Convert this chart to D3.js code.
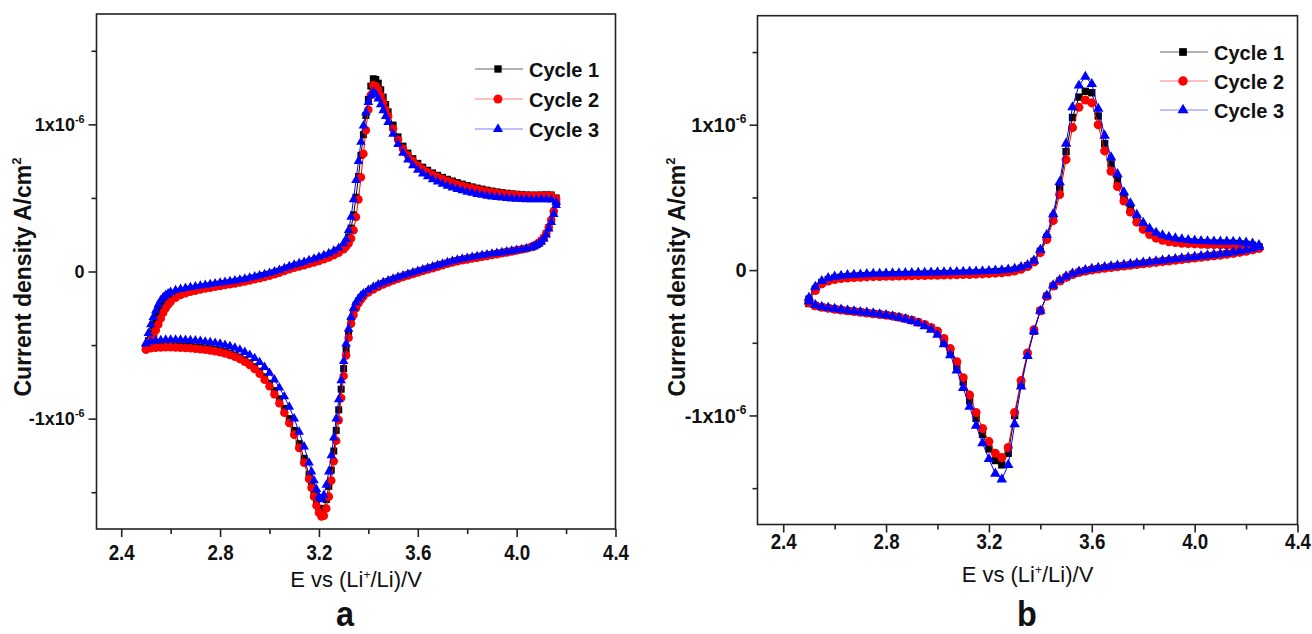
<!DOCTYPE html>
<meta charset="utf-8">
<style>
body { margin: 0; background: #fff; }
svg text { font-family: "Liberation Sans", Arial, sans-serif; fill: #111; }
.axis path { display: none; }
.axis line { stroke: #222; stroke-width: 1.6px; }
.frame { fill: none; stroke: #222; stroke-width: 1.6px; }
</style>
<svg width="1312" height="634"></svg>
<script src="https://d3js.org/d3.v7.min.js"></script>
<script>

// ---- panel a : potentials (V) and current density (x1e-6 A/cm2) ----
var potA_fwd = [2.50,2.51,2.52,2.53,2.54,2.55,2.56,2.57,2.58,2.59,2.60,
  2.62,2.64,2.66,2.68,2.70,2.72,2.74,2.76,2.78,2.80,
  2.82,2.84,2.86,2.88,2.90,2.92,2.94,2.96,2.98,3.00,
  3.02,3.04,3.06,3.08,3.10,3.12,3.14,3.16,3.18,3.20,
  3.22,3.24,3.26,3.28,3.30,
  3.31,3.32,3.33,3.34,3.35,3.36,3.37,3.38,3.39,3.40,
  3.41,3.42,3.43,3.44,3.45,3.46,3.47,3.48,
  3.50,3.52,3.54,3.56,3.58,3.60,3.62,3.64,3.66,3.68,
  3.70,3.72,3.74,3.76,3.78,3.80,3.82,3.84,3.86,3.88,
  3.90,3.92,3.94,3.96,3.98,4.00,4.02,4.04,4.06,4.08,
  4.10,4.12,4.14,4.16];

var a1_fwd = [-0.52,-0.47,-0.42,-0.37,-0.33,-0.29,-0.255,-0.225,-0.20,-0.185,-0.17,
  -0.152,-0.14,-0.13,-0.122,-0.116,-0.11,-0.104,-0.098,-0.093,-0.087,
  -0.082,-0.077,-0.071,-0.065,-0.059,-0.052,-0.044,-0.036,-0.028,-0.019,
  -0.009,0.001,0.012,0.025,0.035,0.044,0.054,0.064,0.074,0.085,
  0.097,0.109,0.125,0.144,0.17,
  0.195,0.235,0.295,0.385,0.505,0.645,0.79,0.93,1.06,1.17,
  1.26,1.31,1.305,1.28,1.235,1.185,1.135,1.085,
  0.995,0.915,0.852,0.805,0.767,0.735,0.709,0.688,0.67,0.654,
  0.64,0.627,0.615,0.604,0.594,0.584,0.575,0.567,0.56,0.553,
  0.547,0.541,0.536,0.532,0.528,0.525,0.522,0.52,0.519,0.519,
  0.52,0.521,0.52,0.50];

var a2_fwd = [-0.53,-0.50,-0.47,-0.435,-0.40,-0.36,-0.32,-0.28,-0.25,-0.225,-0.205,
  -0.178,-0.16,-0.148,-0.138,-0.13,-0.123,-0.116,-0.11,-0.104,-0.098,
  -0.092,-0.087,-0.081,-0.075,-0.068,-0.061,-0.053,-0.045,-0.037,-0.028,
  -0.018,-0.008,0.003,0.015,0.025,0.034,0.043,0.052,0.062,0.072,
  0.083,0.095,0.11,0.128,0.152,
  0.17,0.19,0.225,0.28,0.37,0.49,0.64,0.80,0.96,1.10,
  1.20,1.265,1.26,1.235,1.195,1.15,1.10,1.055,
  0.97,0.895,0.835,0.79,0.752,0.72,0.695,0.675,0.657,0.642,
  0.628,0.615,0.603,0.592,0.582,0.573,0.565,0.557,0.55,0.544,
  0.538,0.533,0.529,0.525,0.522,0.519,0.517,0.515,0.514,0.514,
  0.515,0.516,0.514,0.495];

var a3_fwd = [-0.49,-0.42,-0.36,-0.31,-0.265,-0.225,-0.195,-0.175,-0.16,-0.15,-0.14,
  -0.128,-0.12,-0.113,-0.107,-0.102,-0.097,-0.092,-0.087,-0.082,-0.077,
  -0.072,-0.067,-0.062,-0.056,-0.05,-0.043,-0.035,-0.027,-0.019,-0.01,
  0.0,0.01,0.022,0.035,0.046,0.055,0.065,0.076,0.087,0.098,
  0.11,0.123,0.14,0.16,0.19,
  0.22,0.28,0.37,0.49,0.62,0.75,0.88,0.99,1.08,1.15,
  1.195,1.22,1.205,1.175,1.135,1.095,1.055,1.015,
  0.935,0.865,0.805,0.76,0.72,0.69,0.665,0.645,0.625,0.61,
  0.595,0.582,0.57,0.56,0.55,0.541,0.533,0.526,0.52,0.514,
  0.509,0.505,0.501,0.498,0.495,0.493,0.491,0.49,0.489,0.489,
  0.49,0.49,0.488,0.47];

var potA_rev = [4.16,4.15,4.14,4.13,4.12,4.11,4.10,4.09,4.08,4.07,4.06,
  4.04,4.02,4.00,3.98,3.96,3.94,3.92,3.90,3.88,3.86,
  3.84,3.82,3.80,3.78,3.76,3.74,3.72,3.70,3.68,3.66,
  3.64,3.62,3.60,3.58,3.56,3.54,3.52,3.50,3.48,3.46,
  3.44,3.42,3.40,3.38,
  3.37,3.36,3.35,3.34,3.33,3.32,3.31,3.30,3.29,3.28,3.27,
  3.26,3.25,3.24,3.23,3.22,3.21,3.20,3.19,3.18,3.17,3.16,
  3.14,3.12,3.10,3.08,3.06,3.04,3.02,3.00,2.98,2.96,
  2.94,2.92,2.90,2.88,2.86,2.84,2.82,2.80,2.78,2.76,
  2.74,2.72,2.70,2.68,2.66,2.64,2.62,2.60,2.58,2.56,
  2.54,2.52,2.50];

var a1_rev = [0.46,0.40,0.345,0.297,0.257,0.227,0.206,0.192,0.181,0.172,0.166,
  0.157,0.15,0.144,0.138,0.133,0.127,0.121,0.116,0.11,0.105,
  0.099,0.093,0.087,0.081,0.074,0.066,0.057,0.048,0.038,0.028,
  0.018,0.008,-0.002,-0.012,-0.022,-0.033,-0.044,-0.055,-0.068,-0.081,
  -0.097,-0.114,-0.135,-0.16,
  -0.178,-0.20,-0.23,-0.272,-0.332,-0.42,-0.53,-0.66,-0.80,-0.94,-1.08,
  -1.22,-1.35,-1.46,-1.55,-1.61,-1.63,-1.61,-1.56,-1.50,-1.44,-1.38,
  -1.27,-1.17,-1.08,-1.00,-0.93,-0.865,-0.81,-0.76,-0.716,-0.678,
  -0.647,-0.621,-0.60,-0.582,-0.567,-0.554,-0.544,-0.536,-0.53,-0.525,
  -0.52,-0.516,-0.513,-0.51,-0.508,-0.507,-0.506,-0.506,-0.507,-0.508,
  -0.51,-0.514,-0.52];

var a2_rev = [0.47,0.41,0.35,0.30,0.26,0.23,0.21,0.195,0.183,0.174,0.167,
  0.157,0.149,0.142,0.136,0.13,0.124,0.118,0.112,0.106,0.10,
  0.094,0.088,0.082,0.076,0.069,0.061,0.052,0.043,0.033,0.023,
  0.013,0.003,-0.007,-0.017,-0.027,-0.038,-0.049,-0.061,-0.074,-0.088,
  -0.104,-0.122,-0.143,-0.17,
  -0.19,-0.215,-0.25,-0.295,-0.355,-0.45,-0.57,-0.71,-0.86,-1.01,-1.15,
  -1.29,-1.42,-1.53,-1.61,-1.66,-1.665,-1.64,-1.59,-1.53,-1.47,-1.41,
  -1.30,-1.20,-1.11,-1.03,-0.96,-0.895,-0.835,-0.78,-0.735,-0.695,
  -0.662,-0.635,-0.613,-0.595,-0.58,-0.567,-0.557,-0.549,-0.542,-0.537,
  -0.532,-0.528,-0.525,-0.522,-0.52,-0.518,-0.516,-0.515,-0.515,-0.516,
  -0.518,-0.522,-0.53];

var a3_rev = [0.45,0.39,0.335,0.29,0.25,0.222,0.202,0.188,0.178,0.17,0.164,
  0.156,0.15,0.145,0.14,0.135,0.13,0.125,0.12,0.115,0.11,
  0.104,0.098,0.092,0.086,0.079,0.071,0.062,0.053,0.043,0.033,
  0.023,0.013,0.003,-0.007,-0.017,-0.027,-0.038,-0.049,-0.061,-0.074,
  -0.089,-0.106,-0.126,-0.15,
  -0.165,-0.185,-0.21,-0.25,-0.31,-0.39,-0.49,-0.61,-0.74,-0.87,-1.00,
  -1.13,-1.25,-1.36,-1.45,-1.52,-1.55,-1.53,-1.48,-1.42,-1.36,-1.30,
  -1.19,-1.09,-1.00,-0.92,-0.85,-0.79,-0.735,-0.69,-0.65,-0.617,
  -0.59,-0.567,-0.548,-0.532,-0.519,-0.508,-0.499,-0.492,-0.486,-0.481,
  -0.477,-0.473,-0.47,-0.468,-0.466,-0.465,-0.464,-0.464,-0.465,-0.467,
  -0.47,-0.476,-0.488];

// ---- panel b : one potential grid, forward and reverse currents on it ----
var potB = [2.500,2.525,2.550,2.575,2.600,2.625,2.650,2.675,2.700,2.725,
  2.750,2.775,2.800,2.825,2.850,2.875,2.900,2.925,2.950,2.975,
  3.000,3.025,3.050,3.075,3.100,3.125,3.150,3.175,3.200,3.225,
  3.250,3.275,3.300,3.325,3.350,3.375,3.400,3.425,3.450,3.475,
  3.500,3.525,3.550,3.575,3.600,3.625,3.650,3.675,3.700,3.725,
  3.750,3.775,3.800,3.825,3.850,3.875,3.900,3.925,3.950,3.975,
  4.000,4.025,4.050,4.075,4.100,4.125,4.150,4.175,4.200,4.225,
  4.250];

var b1_fwd = [-0.20,-0.13,-0.085,-0.065,-0.055,-0.049,-0.045,-0.042,-0.04,-0.038,
  -0.036,-0.035,-0.034,-0.033,-0.032,-0.031,-0.03,-0.029,-0.028,-0.027,
  -0.026,-0.025,-0.024,-0.023,-0.022,-0.021,-0.019,-0.017,-0.015,-0.012,
  -0.009,-0.005,0.001,0.013,0.03,0.06,0.13,0.225,0.365,0.565,
  0.815,1.05,1.19,1.23,1.22,1.06,0.87,0.73,0.615,0.505,
  0.43,0.355,0.30,0.265,0.24,0.222,0.21,0.203,0.197,0.194,
  0.19,0.188,0.186,0.185,0.185,0.185,0.184,0.181,0.177,0.171,
  0.16];

var b2_fwd = [-0.21,-0.14,-0.095,-0.075,-0.065,-0.058,-0.054,-0.051,-0.049,-0.047,
  -0.045,-0.044,-0.043,-0.042,-0.041,-0.04,-0.039,-0.038,-0.037,-0.036,
  -0.035,-0.034,-0.033,-0.032,-0.031,-0.03,-0.028,-0.026,-0.024,-0.021,
  -0.018,-0.013,-0.006,0.006,0.025,0.055,0.12,0.21,0.34,0.52,
  0.76,0.98,1.12,1.17,1.15,1.00,0.82,0.68,0.575,0.475,
  0.40,0.33,0.28,0.245,0.22,0.205,0.195,0.19,0.185,0.182,
  0.18,0.178,0.176,0.175,0.174,0.173,0.172,0.17,0.166,0.16,
  0.15];

var b3_fwd = [-0.19,-0.115,-0.075,-0.055,-0.045,-0.04,-0.035,-0.033,-0.03,-0.028,
  -0.026,-0.025,-0.024,-0.023,-0.022,-0.021,-0.02,-0.019,-0.018,-0.017,
  -0.016,-0.015,-0.014,-0.013,-0.012,-0.011,-0.01,-0.008,-0.006,-0.004,
  -0.001,0.003,0.009,0.02,0.035,0.065,0.14,0.242,0.385,0.605,
  0.87,1.12,1.27,1.33,1.28,1.11,0.925,0.775,0.66,0.535,
  0.46,0.38,0.325,0.285,0.257,0.24,0.228,0.219,0.212,0.207,
  0.203,0.2,0.198,0.197,0.196,0.196,0.195,0.193,0.189,0.183,
  0.172];

var b1_rev = [-0.23,-0.245,-0.255,-0.262,-0.268,-0.274,-0.279,-0.284,-0.289,-0.294,
  -0.299,-0.304,-0.309,-0.316,-0.324,-0.333,-0.345,-0.36,-0.378,-0.40,
  -0.43,-0.49,-0.56,-0.66,-0.77,-0.90,-1.02,-1.13,-1.23,-1.31,
  -1.34,-1.26,-1.00,-0.78,-0.58,-0.42,-0.28,-0.18,-0.11,-0.075,
  -0.05,-0.03,-0.015,-0.005,0.003,0.01,0.016,0.021,0.026,0.031,
  0.036,0.041,0.046,0.051,0.056,0.061,0.066,0.071,0.076,0.081,
  0.086,0.091,0.096,0.101,0.106,0.112,0.118,0.125,0.133,0.142,
  0.155];

var b2_rev = [-0.225,-0.245,-0.256,-0.263,-0.269,-0.275,-0.28,-0.285,-0.29,-0.295,
  -0.30,-0.305,-0.31,-0.317,-0.325,-0.334,-0.345,-0.358,-0.374,-0.395,
  -0.42,-0.47,-0.54,-0.63,-0.74,-0.86,-0.98,-1.09,-1.18,-1.26,
  -1.29,-1.22,-0.98,-0.76,-0.57,-0.41,-0.28,-0.18,-0.11,-0.075,
  -0.05,-0.03,-0.017,-0.007,0.0,0.007,0.013,0.018,0.023,0.028,
  0.033,0.038,0.043,0.048,0.053,0.058,0.063,0.068,0.073,0.078,
  0.083,0.088,0.093,0.098,0.103,0.109,0.115,0.122,0.13,0.139,
  0.15];

var b3_rev = [-0.215,-0.24,-0.252,-0.26,-0.266,-0.272,-0.278,-0.283,-0.288,-0.293,
  -0.298,-0.304,-0.31,-0.318,-0.327,-0.337,-0.35,-0.366,-0.386,-0.41,
  -0.445,-0.51,-0.585,-0.69,-0.81,-0.94,-1.07,-1.19,-1.30,-1.40,
  -1.44,-1.34,-1.06,-0.80,-0.59,-0.42,-0.28,-0.175,-0.105,-0.068,
  -0.043,-0.024,-0.01,0.0,0.008,0.015,0.021,0.026,0.031,0.036,
  0.041,0.046,0.051,0.056,0.061,0.066,0.071,0.076,0.081,0.086,
  0.091,0.096,0.101,0.106,0.111,0.117,0.123,0.13,0.138,0.147,
  0.16];

var cycleNames = ["Cycle 1", "Cycle 2", "Cycle 3"];
var xMajor = [2.4, 2.8, 3.2, 3.6, 4.0, 4.4];
var xMinor = [2.6, 3.0, 3.4, 3.8, 4.2];
var yMajor = [-1, 0, 1];
var yMinor = [-1.5, -0.5, 0.5, 1.5];

var colors = ["#000000", "#ff0000", "#0000ff"];
var lineColors = ["#666666", "#ff8080", "#8080ff"];
var symbols = [d3.symbolSquare, d3.symbolCircle, d3.symbolTriangle];

var svg = d3.select("svg");

function drawPanel(p, cycles) {
  var x = d3.scaleLinear().domain([2.3, 4.4]).range([p.left, p.right]);
  var y = d3.scaleLinear().domain([-1.75, 1.75]).range([p.bottom, p.top]);
  var g = svg.append("g");

  // curves: thin line + markers, cycle 1 first so cycle 3 ends on top
  cycles.forEach(function(c, k) {
    var fwd = c.fwdPot.map(function(e, i) { return [e, c.fwd[i]]; });
    var back = c.revPot.map(function(e, i) { return [e, c.rev[i]]; })
      .sort(function(a, b) { return b[0] - a[0]; });
    var pts = fwd.concat(back);

    g.append("path").datum(pts)
      .attr("fill", "none")
      .attr("stroke", colors[k])
      .attr("stroke-width", 1)
      .attr("d", d3.line().x(function(d) { return x(d[0]); }).y(function(d) { return y(d[1]); }));

    g.append("g").selectAll("path")
      .data(pts)
      .enter().append("path")
        .attr("transform", function(d) { return "translate(" + x(d[0]) + "," + y(d[1]) + ")"; })
        .attr("d", d3.symbol().type(symbols[k]).size(p.sizes[k]))
        .attr("fill", colors[k]);
  });

  // frame
  g.append("rect").attr("class", "frame")
    .attr("x", p.left).attr("y", p.top)
    .attr("width", p.right - p.left).attr("height", p.bottom - p.top);

  // x axis (labels are a condensed bold face)
  var xa = g.append("g").attr("class", "axis")
    .attr("transform", "translate(0," + p.bottom + ")")
    .call(d3.axisBottom(x).tickValues(xMajor).tickSize(8).tickPadding(p.xPad)
      .tickFormat(d3.format(".1f")));
  xa.selectAll("text")
    .attr("transform", "scale(0.85,1)")
    .style("font-family", '"Liberation Sans", Arial, sans-serif')
    .style("font-size", "22px").style("font-weight", "bold").style("fill", "#111");
  g.append("g").attr("class", "axis")
    .attr("transform", "translate(0," + p.bottom + ")")
    .call(d3.axisBottom(x).tickValues(xMinor).tickSize(5).tickFormat(""));

  // y axis
  g.append("g").attr("class", "axis")
    .attr("transform", "translate(" + p.left + ",0)")
    .call(d3.axisLeft(y).tickValues(yMajor).tickSize(8).tickFormat(""));
  g.append("g").attr("class", "axis")
    .attr("transform", "translate(" + p.left + ",0)")
    .call(d3.axisLeft(y).tickValues(yMinor).tickSize(5).tickFormat(""));

  g.append("g").selectAll("text")
    .data(yMajor)
    .enter().append("text")
      .attr("x", p.left - p.yGap)
      .attr("y", function(d) { return y(d) + p.yFont * 0.36; })
      .attr("text-anchor", "end")
      .style("font-size", p.yFont + "px")
      .style("font-weight", "bold")
      .each(function(d) {
        var t = d3.select(this);
        if (d === 0) { t.text("0"); return; }
        t.append("tspan").text(d < 0 ? "-1x10" : "1x10");
        t.append("tspan").attr("dy", -p.yFont * 0.45)
          .style("font-size", (p.yFont * 0.6) + "px").text("-6");
      });

  // axis titles
  var xt = g.append("text")
    .attr("x", (p.left + p.right) / 2).attr("y", p.xTitleY)
    .attr("text-anchor", "middle")
    .style("font-size", "22px");
  xt.append("tspan").text("E vs (Li");
  xt.append("tspan").attr("dy", -8).style("font-size", "12px").text("+");
  xt.append("tspan").attr("dy", 8).text("/Li)/V");

  var yt = g.append("text")
    .attr("transform", "translate(" + p.yTitleX + "," + p.yTitleY + ") rotate(-90)")
    .attr("text-anchor", "middle")
    .style("font-size", "23px").style("font-weight", "bold");
  yt.append("tspan").text("Current density A/cm");
  yt.append("tspan").attr("dy", -10).style("font-size", "13px").text("2");

  g.append("text")
    .attr("transform", "translate(" + p.tagX + "," + p.tagY + ") scale(0.9,1)")
    .attr("text-anchor", "middle")
    .style("font-size", "36px").style("font-weight", "bold")
    .text(p.tag);

  // legend
  var lg = g.append("g").selectAll("g")
    .data(cycleNames)
    .enter().append("g")
      .attr("transform", function(d, i) { return "translate(" + p.legX + "," + p.legY[i] + ")"; });
  lg.append("line")
    .attr("x1", 0).attr("x2", 48).attr("y1", 0).attr("y2", 0)
    .attr("stroke", function(d, i) { return lineColors[i]; })
    .attr("stroke-width", 1.2);
  lg.append("path")
    .attr("transform", "translate(23,0)")
    .attr("d", function(d, i) { return d3.symbol().type(symbols[i]).size(p.sizes[i] * 1.1)(); })
    .attr("fill", function(d, i) { return colors[i]; });
  lg.append("text")
    .attr("x", 54).attr("y", 7.5)
    .style("font-size", "20px").style("font-weight", "bold")
    .text(function(d) { return d; });
}

drawPanel({
  left: 96.5, right: 615.5, top: 14, bottom: 529,
  sizes: [49, 57, 40],
  xPad: 7, yFont: 18, yGap: 12,
  xTitleY: 587, yTitleX: 31, yTitleY: 277,
  tag: "a", tagX: 345, tagY: 626,
  legX: 475, legY: [69, 99, 129]
}, [
  { fwdPot: potA_fwd, fwd: a1_fwd, revPot: potA_rev, rev: a1_rev },
  { fwdPot: potA_fwd, fwd: a2_fwd, revPot: potA_rev, rev: a2_rev },
  { fwdPot: potA_fwd, fwd: a3_fwd, revPot: potA_rev, rev: a3_rev }
]);

drawPanel({
  left: 757.5, right: 1297.5, top: 15.7, bottom: 524.5,
  sizes: [54, 64, 48],
  xPad: 1, yFont: 20, yGap: 11,
  xTitleY: 582, yTitleX: 685, yTitleY: 277,
  tag: "b", tagX: 1027, tagY: 626,
  legX: 1160, legY: [52, 81, 110]
}, [
  { fwdPot: potB, fwd: b1_fwd, revPot: potB, rev: b1_rev },
  { fwdPot: potB, fwd: b2_fwd, revPot: potB, rev: b2_rev },
  { fwdPot: potB, fwd: b3_fwd, revPot: potB, rev: b3_rev }
]);

</script>
